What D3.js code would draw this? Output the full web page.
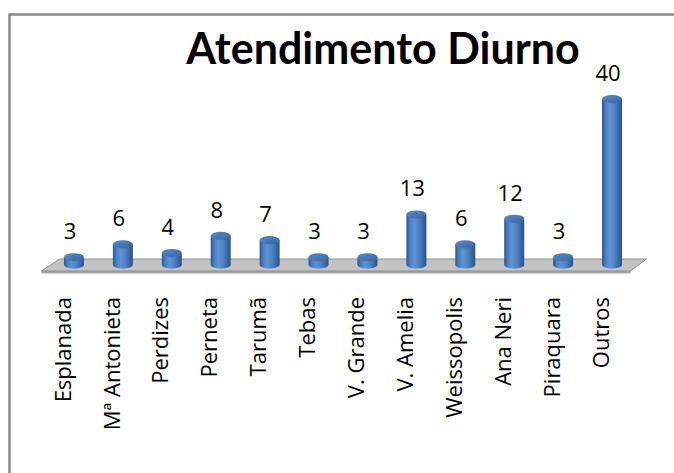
<!DOCTYPE html>
<html>
<head>
<meta charset="utf-8">
<script src="https://cdn.jsdelivr.net/npm/d3@7"></script>
<style>
  body { margin: 0; background: #fff; }
  svg { display: block; }
  text { font-family: "Open Sans", sans-serif; fill: #000; }
  text.title { font-family: Lato, sans-serif; font-weight: bold; }
</style>
</head>
<body>
<svg id="chart" width="674" height="473"></svg>
<script>
const categories = ["Esplanada", "Mª Antonieta", "Perdizes", "Perneta", "Tarumã", "Tebas",
  "V. Grande", "V. Amelia", "Weissopolis", "Ana Neri", "Piraquara", "Outros"];
const values = [3, 6, 4, 8, 7, 3, 3, 13, 6, 12, 3, 40];
const title = "Atendimento Diurno";

const width = 674, height = 473;
const svg = d3.select("#chart");

// outer chart border (only top and left are inside the picture)
svg.append("rect")
  .attr("x", 9.5).attr("y", 14.5)
  .attr("width", width + 20).attr("height", height + 20)
  .attr("fill", "none")
  .attr("stroke", "#8a8a8a")
  .attr("stroke-width", 2.5);

const xScale = d3.scaleBand()
  .domain(categories)
  .range([49.5, 636.5]);

const yScale = d3.scaleLinear()
  .domain([0, 40])
  .range([270, 99]);

const floorBack = 259, floorFront = 271, baseY = 265;
const r = 10, ryTop = 4, ryBot = 3.5;

// gradients for the cylinders
const defs = svg.append("defs");
const bodyGrad = defs.append("linearGradient").attr("id", "body");
[["0%", "#2b568d"], ["18%", "#4a7fc2"], ["38%", "#5e93d4"], ["65%", "#4a7fc1"], ["100%", "#2a5288"]]
  .forEach(s => bodyGrad.append("stop").attr("offset", s[0]).attr("stop-color", s[1]));
const topGrad = defs.append("linearGradient").attr("id", "top")
  .attr("x1", 0).attr("y1", 0).attr("x2", 1).attr("y2", 1);
[["0%", "#5a8ccb"], ["100%", "#36649f"]]
  .forEach(s => topGrad.append("stop").attr("offset", s[0]).attr("stop-color", s[1]));

// floor
const [x0, x1] = xScale.range();
svg.append("path")
  .attr("d", `M${x0 - 8},${floorFront + 2.5} L${x1 - 6},${floorFront + 2.5} L${x1 - 6},${floorFront} L${x0 - 8},${floorFront} Z`)
  .attr("fill", "#a6a6a6");
svg.append("path")
  .attr("d", `M${x0 + 10},${floorBack} L${x1 + 10},${floorBack} L${x1 - 6},${floorFront} L${x0 - 8},${floorFront} Z`)
  .attr("fill", "#c3c3c3")
  .attr("stroke", "#8f8f8f")
  .attr("stroke-width", 1);

const data = categories.map((c, i) => ({ cat: c, value: values[i] }));
const cx = d => xScale(d.cat) + xScale.bandwidth() / 2;

const bars = svg.append("g").selectAll("g")
  .data(data)
  .join("g");

bars.append("path")
  .attr("d", d => {
    const x = cx(d), yt = yScale(d.value);
    return `M${x - r},${yt} L${x - r},${baseY} A${r},${ryBot} 0 0 0 ${x + r},${baseY} L${x + r},${yt} Z`;
  })
  .attr("fill", "url(#body)");

bars.append("ellipse")
  .attr("cx", cx)
  .attr("cy", d => yScale(d.value))
  .attr("rx", r)
  .attr("ry", ryTop)
  .attr("fill", "url(#top)");

// value labels
svg.append("g").selectAll("text")
  .data(data)
  .join("text")
  .attr("x", d => cx(d) - 4)
  .attr("y", d => yScale(d.value) - 18)
  .attr("text-anchor", "middle")
  .attr("font-size", 22)
  .text(d => d.value);

// category labels
svg.append("g").selectAll("text")
  .data(data)
  .join("text")
  .attr("transform", d => `translate(${cx(d) - 11},297) rotate(-90)`)
  .attr("text-anchor", "end")
  .attr("dy", "0.35em")
  .attr("font-size", 22)
  .text(d => d.cat);

// title
svg.append("text")
  .attr("class", "title")
  .attr("x", 383)
  .attr("y", 64)
  .attr("text-anchor", "middle")
  .attr("font-size", 43)
  .text(title);
</script>
</body>
</html>
